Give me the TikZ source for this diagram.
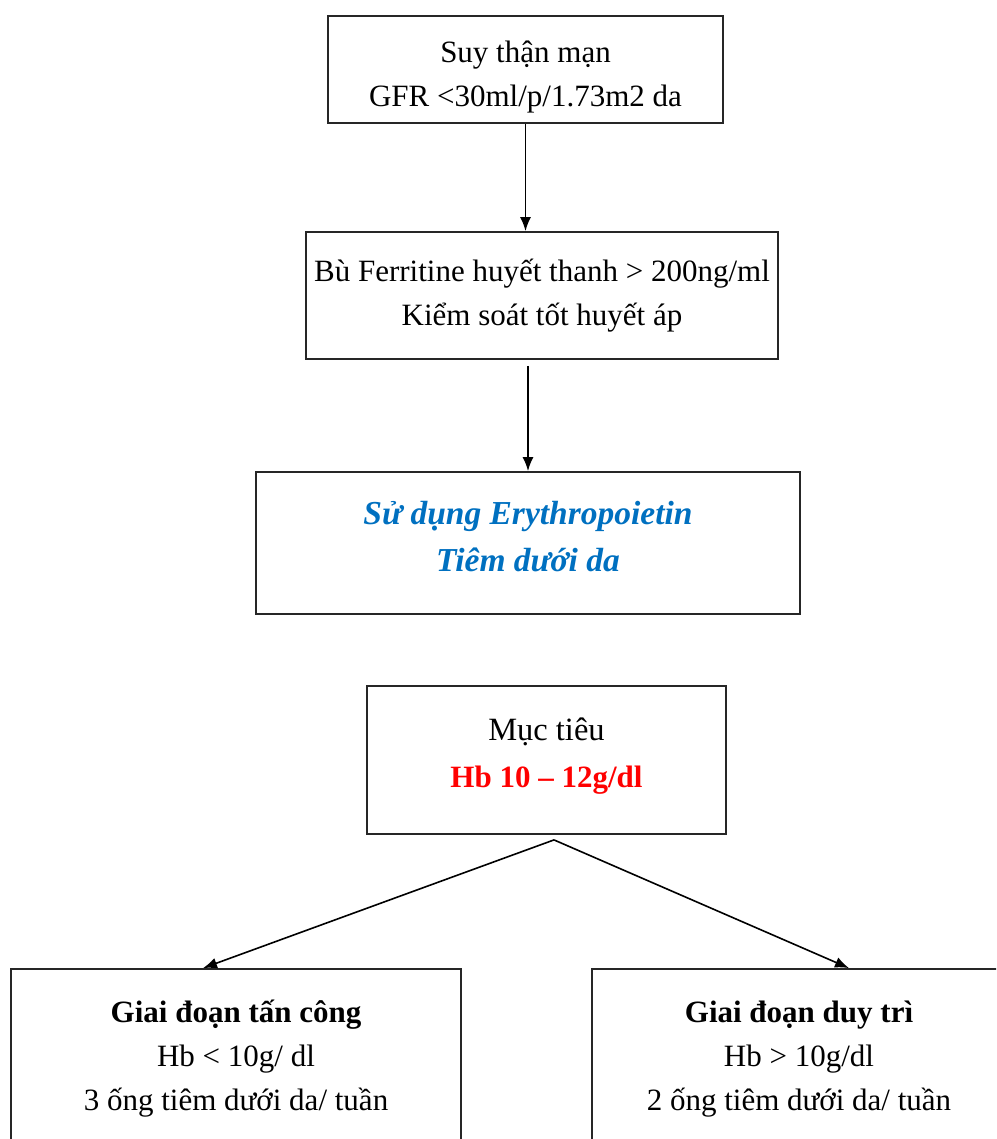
\documentclass[tikz,border=0pt]{standalone}
\usepackage{fontspec}
\setmainfont{Liberation Serif}
\usetikzlibrary{arrows.meta,calc}
\definecolor{epoblue}{HTML}{0070C0}
\definecolor{hbred}{HTML}{FF0000}

\begin{document}
\begin{tikzpicture}[x=1pt,y=-1pt,>={Latex[length=14pt,width=11pt]},
    box/.style={draw=black!85,rectangle,line width=1.8pt,align=center,inner sep=0pt,font=\fontsize{31}{44}\selectfont},
    link/.style={line width=1.6pt}]
	\def\W{996}
	\def\H{1139}
	\useasboundingbox (0,0) rectangle (\W,\H);
	\clip (0,0) rectangle (\W,\H);
	% upper chain
	\node[box,minimum width=395pt,minimum height=107pt,text height=75pt,text depth=0pt] (ckd) at (525.5,69.5) {Suy thận mạn\\GFR <30ml/p/1.73m2 da};
	\node[box,minimum width=472pt,minimum height=127pt] (iron) at (542,295.5) {Bù Ferritine huyết thanh > 200ng/ml\\Kiểm soát tốt huyết áp};
	\node[box,minimum width=544pt,minimum height=142pt,text depth=14pt,font=\fontsize{33.5}{47}\selectfont\bfseries\itshape,text=epoblue] (epo) at (528,543) {Sử dụng Erythropoietin\\Tiêm dưới da};
	\node[box,minimum width=359pt,minimum height=148pt,text depth=14pt,font=\fontsize{32.5}{47}\selectfont] (goal) at (546.5,760) {Mục tiêu\\{\fontsize{31}{47}\selectfont\bfseries\color{hbred}Hb 10 – 12g/dl}};
	% lower pair, cut by the page edge
	\node[box,minimum width=450pt,minimum height=180pt] (attack) at (236,1059) {\bfseries Giai đoạn tấn công\\Hb < 10g/ dl\\3 ống tiêm dưới da/ tuần};
	\node[box,minimum width=414pt,minimum height=180pt] (keep) at (799,1059) {\bfseries Giai đoạn duy trì\\Hb > 10g/dl\\2 ống tiêm dưới da/ tuần};
	\draw[link,->] (ckd.south) -- (ckd |- iron.north);
	\draw[link,->,shorten <=6pt] (iron.south -| epo) -- (epo.north);
	\coordinate (fork) at ([xshift=7.5pt,yshift=-5pt]goal.south);
	\foreach \tgt/\dx in {attack/-33,keep/50}
	{
		\draw[link,->] (fork) -- ([xshift=\dx pt]\tgt.north);
	}
\end{tikzpicture}
\end{document}
